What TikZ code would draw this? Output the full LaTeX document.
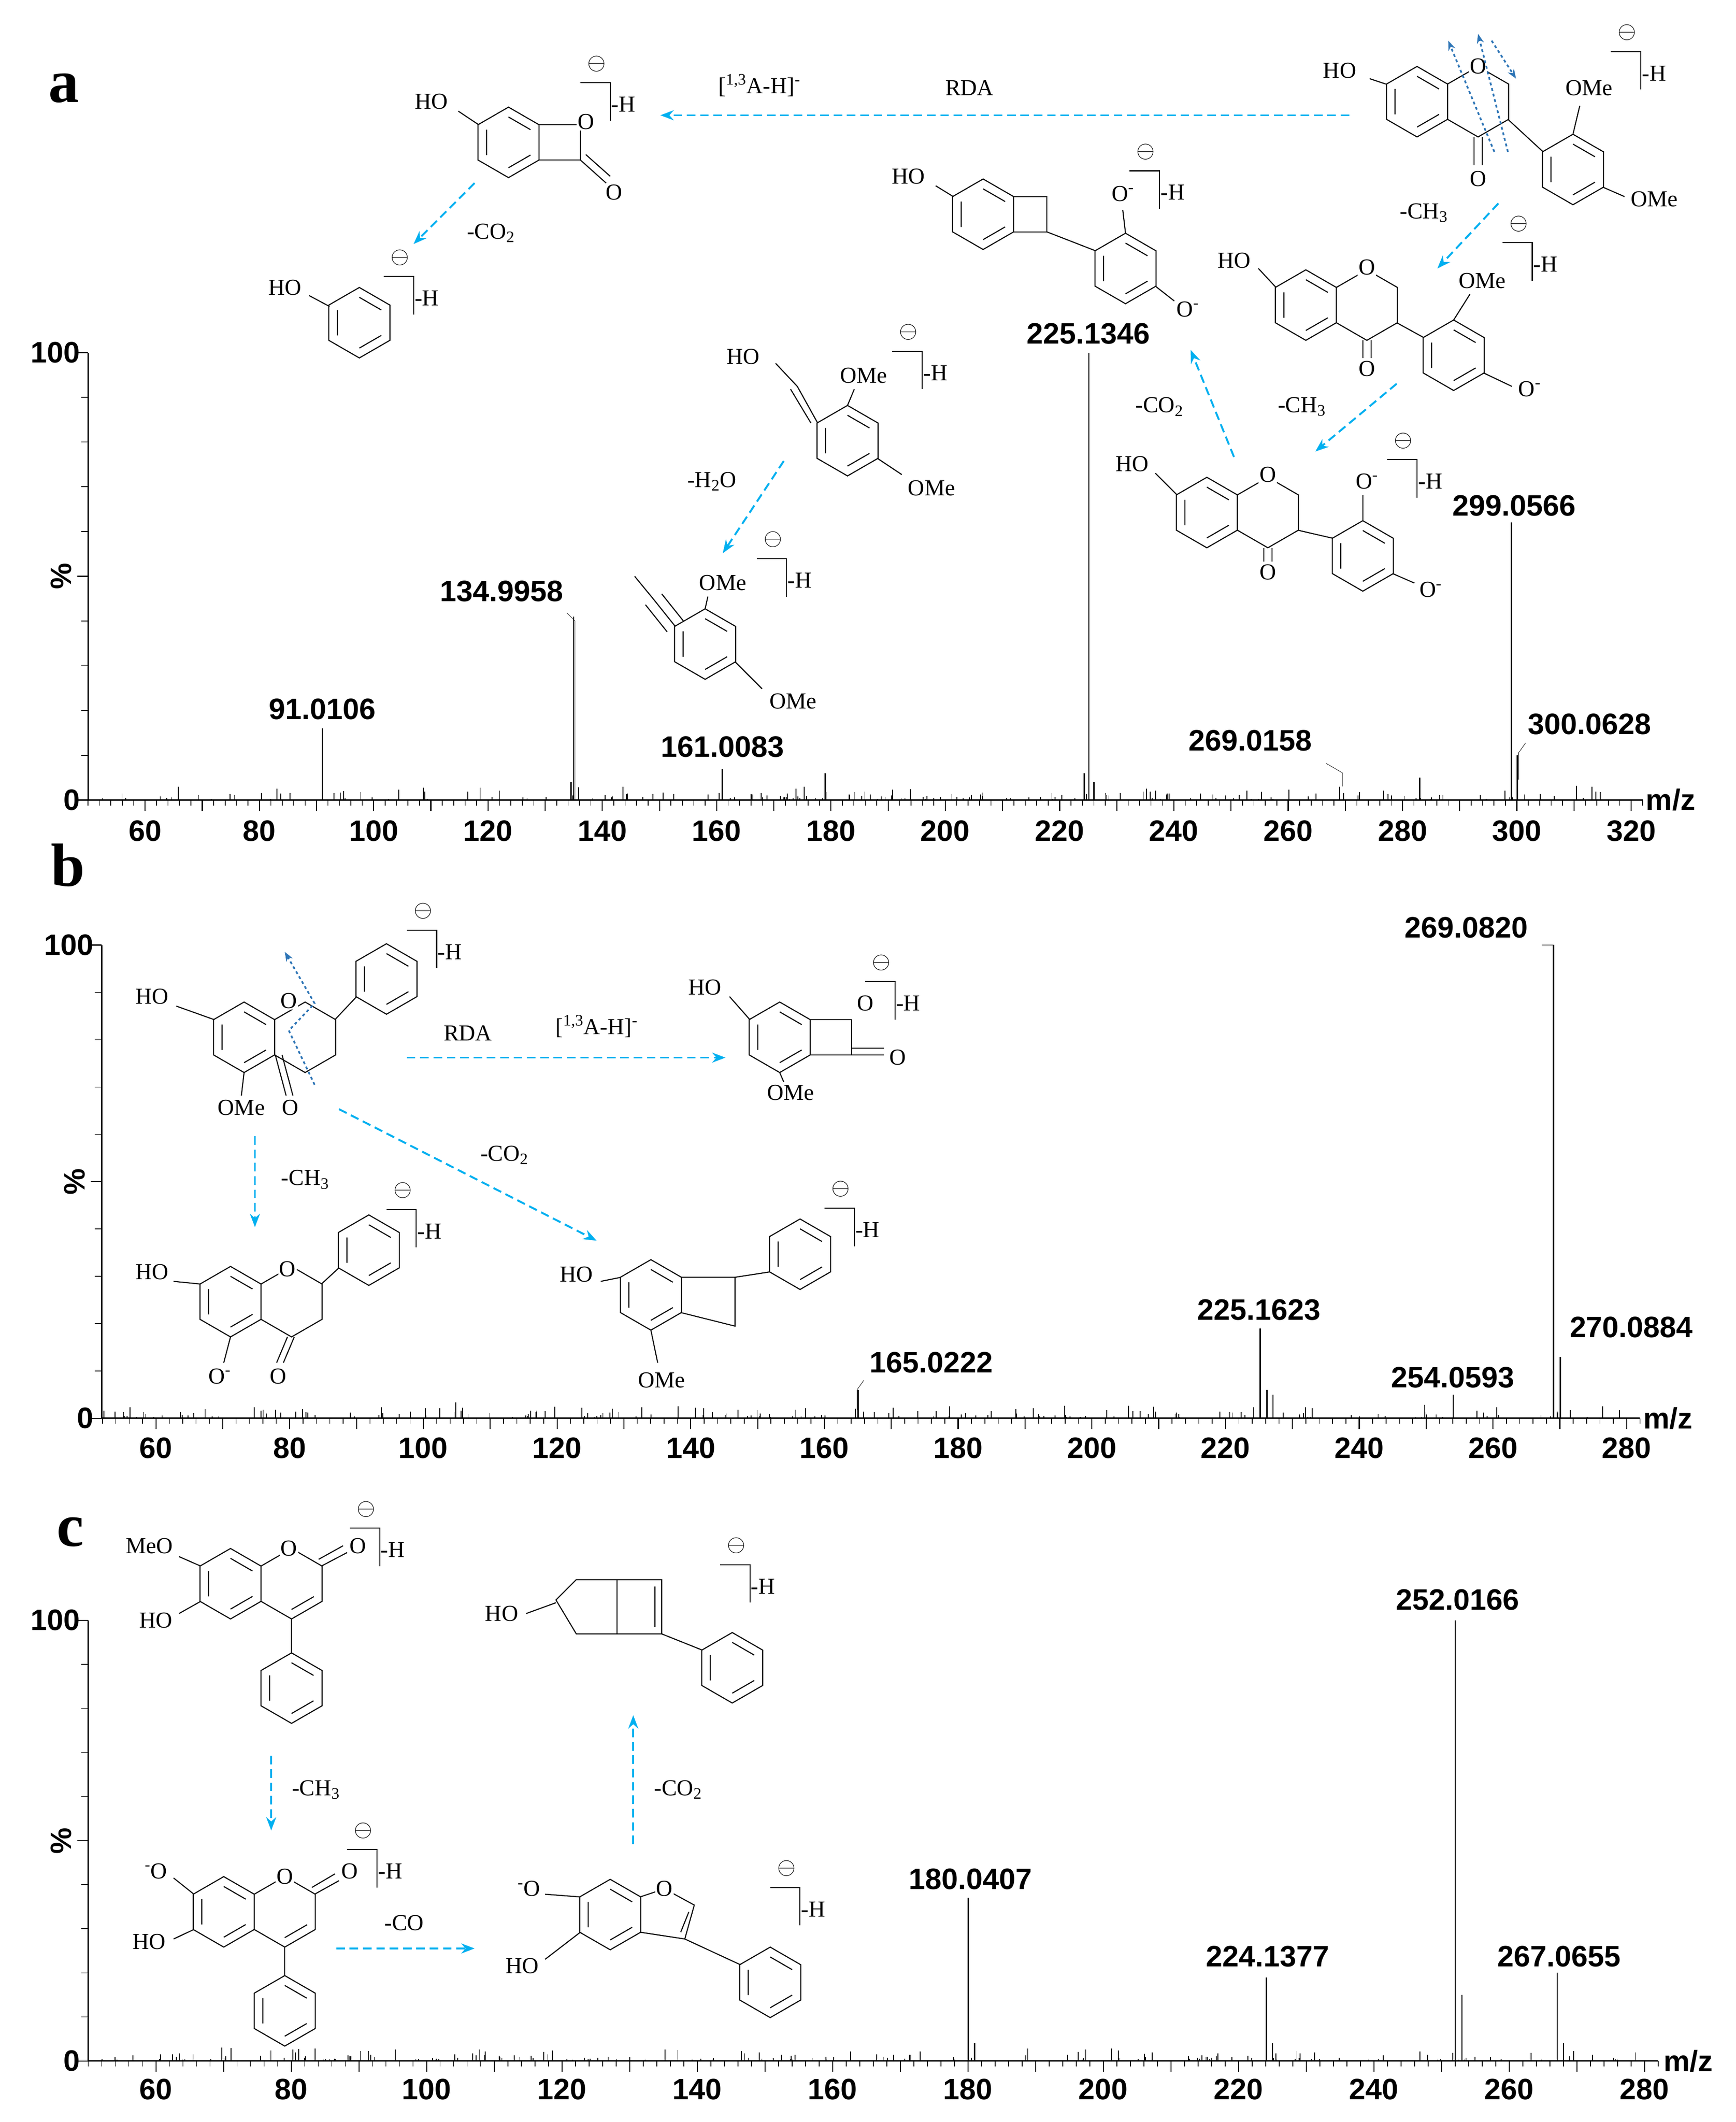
\documentclass[tikz,border=0pt]{standalone}
\usepackage{fontspec}
\setmainfont{Liberation Serif}
\setsansfont{Liberation Sans}
\usetikzlibrary{arrows.meta}
\definecolor{cy}{HTML}{00B0F0}
\definecolor{db}{HTML}{2E75B6}
\newcommand\hexa[3]{\draw[bond] (#1,#2) +(30:#3) -- +(90:#3) -- +(150:#3) -- +(210:#3) -- +(270:#3) -- +(330:#3) -- cycle;}
\newcommand\arom[3]{\hexa{#1}{#2}{#3}\draw[bond] (#1,#2) +(30:0.72*#3) -- +(90:0.72*#3) +(150:0.72*#3) -- +(210:0.72*#3) +(270:0.72*#3) -- +(330:0.72*#3);}
\newcommand\brk[2]{\node[lab] at (#1,#2) {$\ominus$};\draw[bond] (#1-12,#2+14) -- (#1+10,#2+14) -- (#1+10,#2+42);\node[lab,anchor=west] at (#1+10,#2+30) {-H};}
\newcommand\pk[2]{\draw[pk] ({\xa+(#1-60)*\xs},\yb) -- ++(0,{-(#2)/100*\yh});}
\newcommand\pl[3]{\node[plab] at ({\xa+(#1-60)*\xs},#3) {#2};}
\tikzset{bond/.style={line width=1.1pt},lab/.style={font=\fontsize{24}{26}\selectfont,inner sep=1pt},
 plab/.style={font=\sffamily\bfseries\fontsize{31}{34}\selectfont,inner sep=0pt},
 axn/.style={font=\sffamily\bfseries\fontsize{31}{34}\selectfont,inner sep=0pt},
 pk/.style={line width=1.3pt},
 arr/.style={cy,dashed,dash pattern=on 9pt off 5pt,line width=2pt,-{Stealth[length=14pt]}},
 darr/.style={db,dashed,line width=1.8pt,-{Stealth[length=10pt]}},
 letter/.style={font=\bfseries\fontsize{64}{66}\selectfont}}
\begin{document}
\begin{tikzpicture}[x=0.05cm,y=-0.05cm]
\useasboundingbox (0,0) rectangle (1280,1565);
\fill[white] (0,0) rectangle (1280,1565);
\foreach \xa/\xs/\yb/\yh/\ys/\mmin/\mmax/\ymx/\seed in {107/4.215/590/330/65/50/322/260/3, 115/4.93/1046/349/75/50/282/697/5, 115/4.99/1520/325/65/50/282/1195/7}{
  \draw[line width=1.5pt] (\ys,\ymx) -- (\ys,\yb) -- ({\xa+(\mmax-60)*\xs},\yb);
  \draw[line width=1.2pt] (\ys,\ymx) -- ++(-8,0) (\ys,\yb) -- ++(-8,0) (\ys,{(\ymx+\yb)/2}) -- ++(-8,0);
  \foreach \t in {0,...,9}{\draw[line width=0.8pt] (\ys,{\ymx+\t*(\yb-\ymx)/10}) -- ++(-5,0);}
  \node[axn,anchor=east] at (\ys-6,\ymx) {100};
  \node[axn,anchor=east] at (\ys-6,\yb) {0};
  \node[axn,rotate=90] at (\ys-20,{(\ymx+\yb)/2}) {\%};
  \foreach \m in {\mmin,...,\mmax}{\pgfmathsetmacro\e{mod(\m,2)==0?4:0}\draw[line width=0.8pt] ({\xa+(\m-60)*\xs},\yb) -- ++(0,\e);}
  \foreach \m in {60,70,...,\mmax}{\draw[line width=1.1pt] ({\xa+(\m-60)*\xs},\yb) -- ++(0,8);}
  \pgfmathsetseed{\seed}
  \foreach \i in {1,...,230}{\pgfmathsetmacro\mm{52+rnd*(\mmax-55)}\pgfmathsetmacro\hh{rnd*rnd*3.5}\draw[line width=0.9pt] ({\xa+(\mm-60)*\xs},\yb) -- ++(0,{-\hh/100*\yh});}
}
\foreach \m in {60,80,...,320}{\node[axn] at ({107+(\m-60)*4.215},613) {\m};}
\foreach \m in {60,80,...,280}{\node[axn] at ({115+(\m-60)*4.93},1068) {\m};}
\foreach \m in {60,80,...,280}{\node[axn] at ({115+(\m-60)*4.99},1541) {\m};}
\node[axn] at (1232,590) {m/z};
\node[axn] at (1230,1046) {m/z};
\node[axn] at (1245,1520) {m/z};
\node[letter] at (47,65) {a};
\node[letter] at (50,638) {b};
\node[letter] at (52,1130) {c};
% ================= panel a peaks
\def\xa{107}\def\xs{4.215}\def\yb{590}\def\yh{330}
\pk{91.01}{16}\pk{135.0}{41}\pk{134.5}{4}\pk{161.0}{7}\pk{179}{6}\pk{225.13}{100}\pk{224.3}{6}\pk{226}{4}\pk{269.0}{3}\pk{283}{5}\pk{299.06}{62}\pk{300.06}{10}
\pl{91.01}{91.0106}{523}\pl{122.4}{134.9958}{436}\draw (418,452)--(424,458)--(424,590);
\pl{161}{161.0083}{551}\pl{225}{225.1346}{246}
\pl{253.4}{269.0158}{546}\draw (978,563)--(990,570)--(990,580);
\pl{312.7}{300.0628}{534}\draw (1125,548)--(1120,555)--(1120,575);
\pl{299.5}{299.0566}{373}
% ================= panel b peaks
\def\xa{115}\def\xs{4.93}\def\yb{1046}\def\yh{349}
\pk{269.08}{100}\pk{270.09}{13}\pk{225.16}{19}\pk{226.2}{6}\pk{227.1}{5}\pk{254.06}{5}\pk{165.02}{6}
\pl{256}{269.0820}{684}\draw (1137,697)--(1146,697)--(1146,720);
\pl{280.7}{270.0884}{979}\pl{254}{254.0593}{1016}\pl{225}{225.1623}{966}\pl{176}{165.0222}{1005}
\draw (637,1018)--(632,1025)--(632,1040);
% ================= panel c peaks
\def\xa{115}\def\xs{4.99}\def\yb{1520}\def\yh{325}
\pk{252.02}{100}\pk{253}{15}\pk{267.07}{20}\pk{268}{4}\pk{224.14}{19}\pk{225}{4}\pk{180.04}{37}\pk{181}{4}
\pl{252.4}{252.0166}{1180}\pl{267.4}{267.0655}{1443}\pl{224.3}{224.1377}{1443}\pl{180.4}{180.0407}{1386}
% ================= panel a structures
\arom{1045}{75}{26}\hexa{1090}{75}{26}\arom{1160}{125}{26}
\draw[bond] (1112,88)--(1138,112);
\draw[bond] (1087,101)--(1087,122) (1093,101)--(1093,122);
\node[lab] at (988,52) {HO};\draw[bond] (1010,58)--(1022,62);
\node[lab,fill=white] at (1090,49) {O};\node[lab] at (1090,132) {O};
\node[lab] at (1172,65) {OMe};\draw[bond](1160,99)--(1165,78);
\node[lab] at (1220,147) {OMe};\draw[bond](1182,138)--(1198,145);
\brk{1200}{24}
\draw[darr] (1102,112)--(1068,30);\draw[darr] (1112,112)--(1090,25);\draw[darr](1100,30)--(1118,58);
\draw[arr] (995,85)--(487,85);
\node[lab] at (560,63) {[\textsuperscript{1,3}A-H]\textsuperscript{-}};
\node[lab] at (715,65) {RDA};
\arom{375}{105}{26}\draw[bond] (397,92)--(428,92)--(428,118)--(397,118);
\node[lab,fill=white] at (432,90){O};\draw[bond](428,118)--(447,135)(432,114)--(450,130);\node[lab] at (453,142){O};
\node[lab] at (318,75){HO};\draw[bond](338,82)--(353,92);
\brk{440}{47}
\draw[arr] (350,135)--(305,180);\node[lab] at (362,172){-CO\textsubscript{2}};
\arom{265}{238}{26}\node[lab] at (210,212){HO};\draw[bond](228,218)--(243,226);
\brk{295}{190}
\arom{725}{158}{26}\draw[bond](747,145)--(772,145)--(772,171)--(747,171);
\arom{830}{198}{26}\draw[bond](772,171)--(808,185);
\node[lab] at (670,130){HO};\draw[bond](690,137)--(703,145);
\node[lab] at (828,143){O\textsuperscript{-}};\draw[bond](830,172)--(828,155);
\node[lab] at (876,228){O\textsuperscript{-}};\draw[bond](852,211)--(866,222);
\brk{845}{112}
\arom{963}{225}{26}\hexa{1008}{225}{26}\arom{1072}{262}{26}\draw[bond](1030,238)--(1050,249);
\draw[bond] (1005,251)--(1005,264) (1011,251)--(1011,264);\node[lab] at (1008,272){O};
\node[lab,fill=white] at (1008,197){O};\node[lab] at (910,192){HO};\draw[bond](928,198)--(941,212);
\node[lab] at (1093,207){OMe};\draw[bond](1072,236)--(1084,217);
\node[lab] at (1128,287){O\textsuperscript{-}};\draw[bond](1094,275)--(1115,285);
\brk{1120}{165}
\draw[arr] (1105,150)--(1060,198);\node[lab] at (1050,157){-CH\textsubscript{3}};
\draw[arr] (1030,283)--(970,333);\node[lab] at (960,300){-CH\textsubscript{3}};
\arom{890}{378}{26}\hexa{935}{378}{26}\arom{1005}{410}{26}\draw[bond](957,391)--(983,397);
\draw[bond](932,404)--(932,414) (938,404)--(938,414);\node[lab] at (935,422){O};
\node[lab,fill=white] at (935,350){O};\node[lab] at (835,342){HO};\draw[bond](852,349)--(868,365);
\node[lab] at (1008,355){O\textsuperscript{-}};\draw[bond](1005,384)--(1005,365);
\node[lab] at (1055,435){O\textsuperscript{-}};\draw[bond](1027,423)--(1043,430);
\brk{1035}{325}
\draw[arr] (910,337)--(878,258);\node[lab] at (855,300){-CO\textsubscript{2}};
\arom{625}{325}{26}\draw[bond](603,312)--(588,285)--(572,268)(598,312)--(583,287);
\node[lab] at (548,263){HO};
\node[lab] at (637,277){OMe};\draw[bond](625,299)--(630,287);
\node[lab] at (687,360){OMe};\draw[bond](647,338)--(665,350);
\brk{670}{245}
\draw[arr] (578,340)--(533,408);\node[lab] at (525,355){-H\textsubscript{2}O};
\arom{520}{475}{26}\draw[bond](498,462)--(482,442)--(468,425) (492,466)--(476,446) (504,458)--(488,438);
\node[lab] at (533,430){OMe};\draw[bond](520,449)--(522,440);
\node[lab] at (585,517){OMe};\draw[bond](542,488)--(562,508);
\brk{570}{398}
% ================= panel b structures
\arom{180}{765}{26}\hexa{225}{765}{26}\arom{285}{722}{26}\draw[bond](247,752)--(263,735);
\node[lab,fill=white] at (213,738){O};
\draw[bond](180,791)--(178,808);\node[lab] at (178,817){OMe};
\draw[bond](203,778)--(211,808)(208,778)--(216,808);\node[lab] at (214,817){O};
\node[lab] at (112,735){HO};\draw[bond](130,742)--(158,752);
\brk{312}{672}
\draw[darr](232,800)--(213,760)--(232,740)--(210,702);
\draw[arr](300,780)--(535,780);\node[lab] at (345,762){RDA};\node[lab] at (440,757){[\textsuperscript{1,3}A-H]\textsuperscript{-}};
\arom{575}{765}{26}\draw[bond](597,752)--(628,752)--(628,778)--(597,778);
\node[lab,fill=white] at (638,740){O};\draw[bond](628,778)--(652,778)(628,773)--(652,773);\node[lab] at (662,780){O};
\node[lab] at (520,728){HO};\draw[bond](538,735)--(553,752);
\draw[bond](575,791)--(578,798);\node[lab] at (583,806){OMe};
\brk{650}{710}
\draw[arr](250,818)--(440,915);\node[lab] at (372,852){-CO\textsubscript{2}};
\draw[arr](188,838)--(188,905);\node[lab] at (225,870){-CH\textsubscript{3}};
\arom{170}{960}{26}\hexa{215}{960}{26}\arom{272}{922}{26}\draw[bond](237,947)--(250,935);
\node[lab,fill=white] at (212,936){O};\node[lab] at (112,938){HO};\draw[bond](128,945)--(148,947);
\node[lab] at (162,1015){O\textsuperscript{-}};\draw[bond](170,986)--(165,1005);
\draw[bond](212,986)--(204,1005)(217,986)--(209,1005);\node[lab] at (205,1015){O};
\brk{297}{878}
\arom{480}{955}{26}\draw[bond](502,942)--(542,942)--(542,978)--(502,968);\arom{590}{925}{26}\draw[bond](542,942)--(568,938);
\node[lab] at (425,940){HO};\draw[bond](443,945)--(458,942);
\draw[bond](480,981)--(485,1005);\node[lab] at (488,1018){OMe};
\brk{620}{877}
% ================= panel c structures
\arom{170}{1168}{26}\hexa{215}{1168}{26}\arom{215}{1245}{26}\draw[bond](215,1194)--(215,1219);
\draw[bond] (215,1168) +(30:19) -- +(90:19);
\node[lab,fill=white] at (213,1142){O};\draw[bond](237,1155)--(256,1145)(235,1150)--(253,1140);\node[lab] at (264,1140){O};
\node[lab] at (110,1140){MeO};\draw[bond](132,1148)--(148,1155);
\node[lab] at (115,1195){HO};\draw[bond](132,1190)--(148,1181);
\brk{270}{1113}
\draw[arr](200,1295)--(200,1350);\node[lab] at (233,1320){-CH\textsubscript{3}};
\arom{165}{1410}{26}\hexa{210}{1410}{26}\arom{210}{1483}{26}\draw[bond](210,1436)--(210,1457);
\draw[bond] (210,1410) +(30:19) -- +(90:19);
\node[lab,fill=white] at (210,1384){O};\draw[bond](232,1397)--(250,1387)(230,1392)--(247,1382);\node[lab] at (258,1380){O};
\node[lab] at (115,1380){\textsuperscript{-}O};\draw[bond](128,1385)--(143,1397);
\node[lab] at (110,1432){HO};\draw[bond](128,1430)--(143,1423);
\brk{268}{1350}
\draw[arr](248,1437)--(350,1437);\node[lab] at (298,1418){-CO};
\arom{450}{1412}{26}\draw[bond](472,1399)--(490,1393)--(512,1405)--(505,1430)--(472,1425)(508,1410)--(502,1425);
\node[lab,fill=white] at (490,1393){O};\arom{568}{1462}{26}\draw[bond](505,1430)--(546,1449);
\node[lab] at (390,1393){\textsuperscript{-}O};\draw[bond](402,1397)--(428,1399);
\node[lab] at (385,1450){HO};\draw[bond](402,1445)--(428,1425);
\brk{580}{1378}
\draw[arr](467,1360)--(467,1265);\node[lab] at (500,1320){-CO\textsubscript{2}};
\draw[bond](410,1180)--(425,1165)--(455,1165)--(455,1205)--(425,1205)--cycle (455,1165)--(488,1165)--(488,1205)--(455,1205) (483,1170)--(483,1200);
\arom{540}{1230}{26}\draw[bond](488,1205)--(518,1217);
\node[lab] at (370,1190){HO};\draw[bond](388,1190)--(410,1182);
\brk{543}{1140}
\end{tikzpicture}
\end{document}
